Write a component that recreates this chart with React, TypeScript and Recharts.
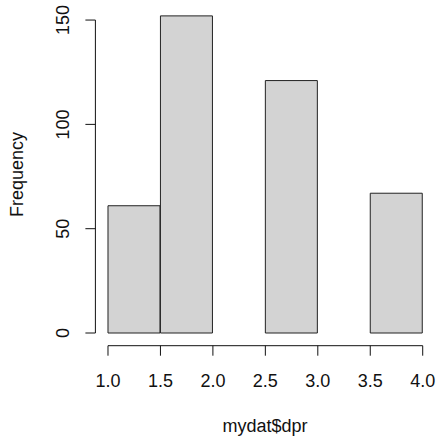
import { BarChart, Bar, XAxis, YAxis, ReferenceLine, Label } from "recharts";

// histogram of mydat$dpr, bins of width 0.5
const binStarts = [1.0, 1.5, 2.0, 2.5, 3.0, 3.5];
const binEnds = [1.5, 2.0, 2.5, 3.0, 3.5, 4.0];
const counts = [61, 152, 0, 121, 0, 67];
const xTicks = [1.0, 1.5, 2.0, 2.5, 3.0, 3.5, 4.0];
const yTicks = [0, 50, 100, 150];

const data = binStarts.map((start, i) => ({
  mid: (start + binEnds[i]) / 2,
  count: counts[i],
}));

// R pads the plot region by 4% of the data range
const xMin = binStarts[0];
const xMax = binEnds[binEnds.length - 1];
const xPad = (xMax - xMin) * 0.04;
const yMax = Math.max(...counts);
const yPad = yMax * 0.04;

const FONT = "'Liberation Sans', Arial, sans-serif";
const INK = "#111";

const YTick = (props: any) => {
  const { x, y, payload } = props;
  return (
    <text
      x={x}
      y={y}
      transform={`rotate(-90, ${x}, ${y})`}
      textAnchor="middle"
      fontFamily={FONT}
      fontSize={18}
      fill={INK}
    >
      {payload.value}
    </text>
  );
};

export default function App() {
  return (
    <div style={{ position: "absolute", left: 0, top: 0, background: "#fff" }}>
      <BarChart
        width={436}
        height={442}
        data={data}
        margin={{ top: 3.2, right: 0.7, left: 0, bottom: 0 }}
        barCategoryGap={0}
        barGap={0}
      >
        <XAxis
          dataKey="mid"
          type="number"
          domain={[xMin - xPad, xMax + xPad]}
          ticks={xTicks}
          tickFormatter={(v: number) => v.toFixed(1)}
          axisLine={false}
          tickSize={10}
          tickMargin={19}
          tickLine={{ stroke: INK, strokeWidth: 1 }}
          tick={{ fontFamily: FONT, fontSize: 18, fill: INK }}
          height={96.3}
          interval={0}
        >
          <Label
            content={() => (
              <text x={265} y={431.5} textAnchor="middle" fontFamily={FONT} fontSize={18} fill={INK}>
                mydat$dpr
              </text>
            )}
          />
        </XAxis>
        <YAxis
          type="number"
          domain={[-yPad, yMax + yPad]}
          ticks={yTicks}
          axisLine={false}
          tickSize={10}
          tickMargin={16.4}
          tickLine={{ stroke: INK, strokeWidth: 1 }}
          tick={<YTick />}
          width={95.4}
          interval={0}
        >
          <Label
            content={() => (
              <text
                x={23}
                y={174.5}
                transform="rotate(-90, 23, 174.5)"
                textAnchor="middle"
                fontFamily={FONT}
                fontSize={18}
                fill={INK}
              >
                Frequency
              </text>
            )}
          />
        </YAxis>
        <ReferenceLine
          segment={[
            { x: xMin - xPad, y: yTicks[0] },
            { x: xMin - xPad, y: yTicks[yTicks.length - 1] },
          ]}
          stroke={INK}
          strokeWidth={1}
          ifOverflow="visible"
        />
        <ReferenceLine
          segment={[
            { x: xTicks[0], y: -yPad },
            { x: xTicks[xTicks.length - 1], y: -yPad },
          ]}
          stroke={INK}
          strokeWidth={1}
          ifOverflow="visible"
        />
        <Bar
          dataKey="count"
          fill="#D3D3D3"
          stroke="#222"
          strokeWidth={1}
          isAnimationActive={false}
        />
      </BarChart>
    </div>
  );
}
